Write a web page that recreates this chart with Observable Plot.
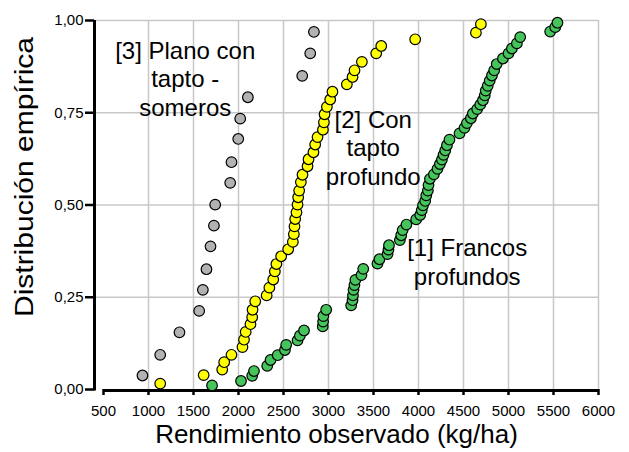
<!DOCTYPE html>
<html>
<head>
<meta charset="utf-8">
<script src="https://cdn.jsdelivr.net/npm/d3@7"></script>
<script src="https://cdn.jsdelivr.net/npm/@observablehq/plot@0.6"></script>
<style>
  html, body { margin: 0; padding: 0; background: white; }
</style>
</head>
<body>
<div id="chart"></div>
<script>
// Tick values
const xTicks = [500, 1000, 1500, 2000, 2500, 3000, 3500, 4000, 4500, 5000, 5500, 6000];
const yTicks = [0, 0.25, 0.5, 0.75, 1];

// [1] Francos profundos (green)
const francosX = [1706, 2028, 2152, 2172, 2319, 2356, 2436, 2516, 2530, 2656, 2682, 2728, 2936, 2940, 2943, 2974,
  3252, 3267, 3272, 3278, 3288, 3299, 3366, 3386, 3544, 3566, 3656, 3666, 3672, 3793, 3808, 3824, 3866,
  3974, 4019, 4036, 4050, 4074, 4086, 4104, 4111, 4127, 4171, 4211, 4238, 4260, 4278, 4297, 4316, 4344,
  4456, 4511, 4538, 4582, 4604, 4652, 4686, 4716, 4736, 4747, 4769, 4791, 4816, 4841, 4869, 4938, 5000,
  5038, 5093, 5130, 5463, 5519, 5544];
const francosY = [0.011, 0.023, 0.037, 0.050, 0.064, 0.080, 0.093, 0.107, 0.121, 0.133, 0.146, 0.160, 0.171, 0.184,
  0.199, 0.216, 0.228, 0.242, 0.255, 0.270, 0.283, 0.297, 0.310, 0.327, 0.341, 0.353, 0.367, 0.379, 0.391,
  0.405, 0.418, 0.432, 0.447, 0.461, 0.473, 0.486, 0.499, 0.511, 0.526, 0.539, 0.554, 0.571, 0.583, 0.598,
  0.611, 0.623, 0.636, 0.648, 0.662, 0.677, 0.694, 0.709, 0.722, 0.735, 0.748, 0.760, 0.772, 0.784, 0.797,
  0.810, 0.823, 0.837, 0.851, 0.865, 0.882, 0.897, 0.911, 0.924, 0.938, 0.955, 0.970, 0.982, 0.994];

// [2] Con tapto profundo (yellow)
const taptoProfX = [1130, 1613, 1819, 1841, 1922, 2044, 2061, 2080, 2133, 2152, 2156, 2186, 2313, 2343, 2386, 2404,
  2421, 2474, 2552, 2604, 2615, 2622, 2630, 2644, 2656, 2663, 2674, 2693, 2711, 2767, 2778, 2833, 2852,
  2878, 2938, 2949, 2956, 2982, 3019, 3044, 3204, 3267, 3289, 3371, 3530, 3586, 3963, 4638, 4693];
const taptoProfY = [0.016, 0.039, 0.054, 0.074, 0.094, 0.115, 0.135, 0.156, 0.177, 0.196, 0.216, 0.239, 0.255, 0.276,
  0.298, 0.320, 0.340, 0.361, 0.380, 0.400, 0.421, 0.442, 0.462, 0.480, 0.501, 0.521, 0.539, 0.562, 0.582,
  0.605, 0.624, 0.643, 0.664, 0.684, 0.704, 0.724, 0.746, 0.766, 0.786, 0.807, 0.827, 0.847, 0.865, 0.888,
  0.911, 0.931, 0.949, 0.967, 0.990];

// [3] Plano con tapto - someros (grey)
const somerosX = [933, 1130, 1344, 1563, 1604, 1644, 1689, 1727, 1741, 1908, 1922, 1997, 2019, 2104, 2708, 2797, 2838];
const somerosY = [0.038, 0.094, 0.155, 0.213, 0.270, 0.326, 0.388, 0.444, 0.501, 0.560, 0.616, 0.679, 0.734, 0.792,
  0.850, 0.911, 0.969];

// Series labels
const labelTexts = ["[3] Plano con\ntapto -\nsomeros", "[2] Con\ntapto\nprofundo", "[1] Francos\nprofundos"];
const labelX = [1408, 3497, 4541];
const labelY = [0.844, 0.657, 0.347];

const xTitle = "Rendimiento observado (kg/ha)";
const yTitle = "Distribución empírica";

const toPts = (xs, ys) => xs.map((x, i) => ({x, y: ys[i]}));
const francos = toPts(francosX, francosY);
const taptoProf = toPts(taptoProfX, taptoProfY);
const someros = toPts(somerosX, somerosY);
const labels = labelTexts.map((t, i) => ({t, x: labelX[i], y: labelY[i]}));
const fmtY = d => d.toFixed(2).replace(".", ",");
const fmtX = d => String(d);

const gridColor = "#c8c8c8";
const dotR = 5.3;

const chart = Plot.plot({
  width: 629,
  height: 452,
  marginLeft: 94,
  marginRight: 31,
  marginTop: 20,
  marginBottom: 63,
  x: {domain: [500, 6000], insetLeft: 9},
  y: {domain: [0, 1]},
  style: {fontFamily: "'Liberation Sans', Arial, sans-serif", background: "white", color: "black", overflow: "visible"},
  marks: [
    Plot.ruleX(xTicks.filter(d => d > 500), {stroke: gridColor, strokeWidth: 1.5}),
    Plot.ruleY(yTicks.filter(d => d > 0), {stroke: gridColor, strokeWidth: 1.5}),
    Plot.axisY(yTicks, {tickSize: 9, tickPadding: 2, tickFormat: fmtY, fontSize: 15, strokeWidth: 2.5, label: null}),
    Plot.ruleX([500], {dx: -9, strokeWidth: 3, stroke: "black", insetBottom: -1.5}),
    Plot.ruleY([0], {x1: 500, x2: 6000, strokeWidth: 3, stroke: "black", dy: 1}),
    Plot.axisX(xTicks, {tickSize: 6, tickPadding: 10, fontSize: 15, strokeWidth: 2.5, tickFormat: fmtX, label: null}),
    Plot.dot(someros, {x: "x", y: "y", r: dotR, fill: "#b2b2b2", stroke: "black", strokeWidth: 1.2}),
    Plot.dot(taptoProf, {x: "x", y: "y", r: dotR, fill: "#ffff00", stroke: "black", strokeWidth: 1.2}),
    Plot.dot(francos, {x: "x", y: "y", r: dotR, fill: "#45c45b", stroke: "black", strokeWidth: 1.2}),
    Plot.text(labels, {x: "x", y: "y", text: "t", fontSize: 24, lineHeight: 1.19, textAnchor: "middle", fill: "black"}),
    Plot.text([xTitle], {frameAnchor: "bottom", dx: -10, dy: 53, fontSize: 26, fill: "black"})
  ]
});

// Rotated y-axis title (stretched along its length as in the reference)
d3.select(chart).append("text")
  .attr("transform", "translate(33,177) rotate(-90) scale(1.2,1)")
  .attr("text-anchor", "middle")
  .attr("font-size", 25)
  .attr("fill", "black")
  .text(yTitle);

document.getElementById("chart").appendChild(chart);
</script>
</body>
</html>
